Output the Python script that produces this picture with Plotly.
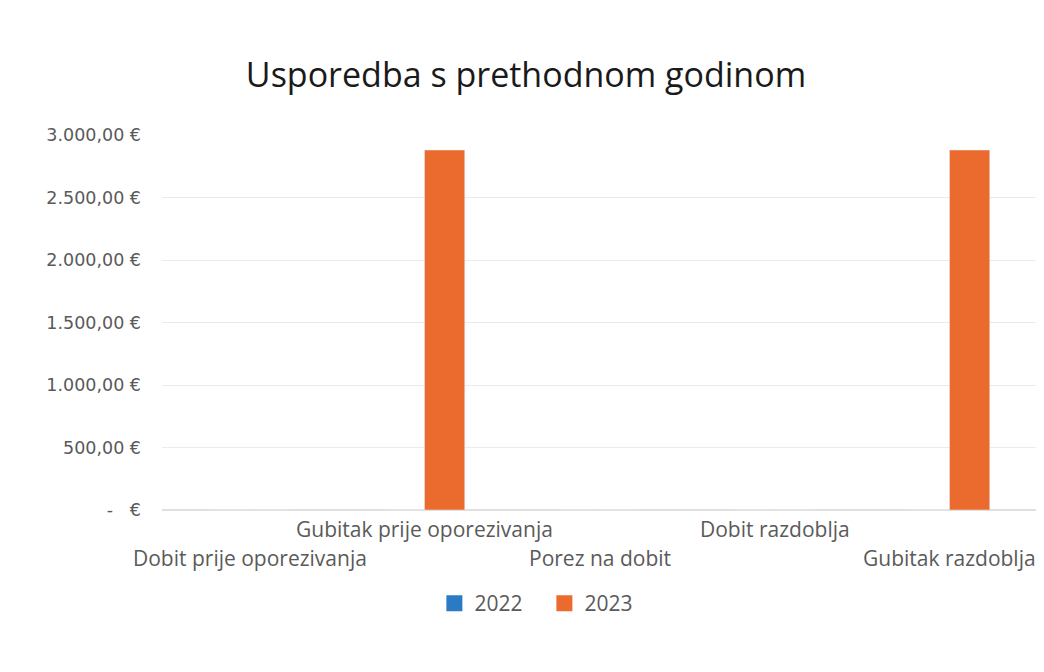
import plotly.graph_objects as go

categories = ["Dobit prije oporezivanja", "Gubitak prije oporezivanja",
              "Porez na dobit", "Dobit razdoblja", "Gubitak razdoblja"]
series_names = ["2022", "2023"]
values_2022 = [0, 0, 0, 0, 0]
values_2023 = [0, 2880, 0, 0, 2880]
tick_vals = [0, 500, 1000, 1500, 2000, 2500, 3000]
tick_text = ["-   €", "500,00 €", "1.000,00 €", "1.500,00 €",
             "2.000,00 €", "2.500,00 €", "3.000,00 €"]
label_row = [1, 0, 1, 0, 1]  # staggered category labels (0 = upper, 1 = lower)

BLUE = "#2B7BC4"
ORANGE = "#EA6B2D"
GRAY = "#5A5A5A"
FONT = "Open Sans"

fig = go.Figure()
for name, vals, col in zip(series_names, [values_2022, values_2023], [BLUE, ORANGE]):
    fig.add_trace(go.Bar(name=name, x=categories, y=vals, marker_color=col,
                         showlegend=False, legendgroup=name))
    # larger square legend key
    fig.add_trace(go.Scatter(name=name, x=[None], y=[None], mode="markers",
                             marker=dict(symbol="square", size=24, color=col),
                             legendgroup=name, showlegend=True))

for cat, row in zip(categories, label_row):
    fig.add_annotation(x=cat, y=0, xref="x", yref="y", text=cat, showarrow=False,
                       yanchor="top", yshift=-3 - 29 * row,
                       font=dict(family=FONT, size=21, color=GRAY))

# page has an 8px body margin, so the figure is sized 8px smaller
fig.update_layout(
    width=1036, height=664,
    paper_bgcolor="white", plot_bgcolor="white",
    barmode="group", bargap=0.54, bargroupgap=0,
    margin=dict(l=154, r=7, t=127, b=162),
    title=dict(text="Usporedba s prethodnom godinom", x=0.5, xanchor="center",
               y=0.899, yanchor="middle",
               font=dict(family=FONT, size=34, color="#1A1A1A")),
    font=dict(family=FONT, color=GRAY),
    legend=dict(orientation="h", x=0.437, xanchor="center", y=-0.195, yanchor="top",
                font=dict(family=FONT, size=21, color=GRAY), itemsizing="trace",
                entrywidth=65, entrywidthmode="pixels"),
)
fig.update_xaxes(type="category", range=[-0.5, len(categories) - 0.5],
                 showticklabels=False, showgrid=False, showline=False, zeroline=False)
fig.update_yaxes(range=[0, 3000], tickvals=tick_vals, ticktext=tick_text,
                 tickfont=dict(family="DejaVu Sans", size=17.5, color=GRAY),
                 gridcolor="#EBEBEB", zeroline=True, zerolinecolor="#E0E0E0",
                 ticks="", ticklabelstandoff=20)

fig.write_html("out.html")
